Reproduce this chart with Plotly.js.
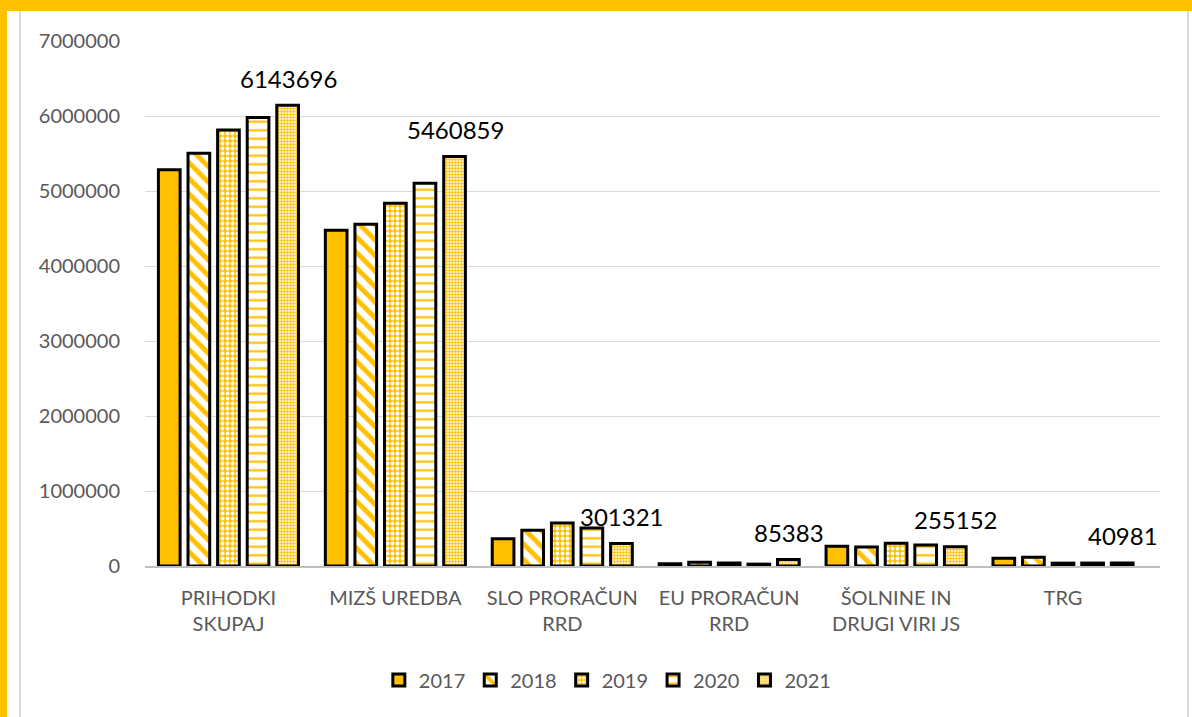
<!DOCTYPE html>
<html>
<head>
<meta charset="utf-8">
<script src="https://cdn.plot.ly/plotly-3.0.1.min.js"></script>
<style>
html,body{margin:0;padding:0;background:#fff;}
#wrap{position:relative;width:1192px;height:717px;overflow:hidden;}
#chart{position:absolute;left:0;top:0;width:1192px;height:717px;}
.ov{position:absolute;pointer-events:none;z-index:10;}
</style>
</head>
<body>
<div id="wrap">
<div id="chart"></div>
<div class="ov" style="left:0;top:0;width:1192px;height:11px;background:#FFC000;"></div>
<div class="ov" style="left:0;top:0;width:7px;height:717px;background:#FFC000;"></div>
<div class="ov" style="left:19px;top:11px;width:2px;height:706px;background:#d9d9d9;"></div>
<div class="ov" style="left:1187px;top:11px;width:2px;height:706px;background:#d9d9d9;"></div>
</div>
<script>
const categories = ["PRIHODKI<br>SKUPAJ", "MIZŠ UREDBA", "SLO PRORAČUN<br>RRD", "EU PRORAČUN<br>RRD", "ŠOLNINE IN<br>DRUGI VIRI JS", "TRG"];
const years = ["2017", "2018", "2019", "2020", "2021"];
const v2017 = [5285000, 4477000, 365000, 30000, 263000, 104000];
const v2018 = [5504000, 4557000, 477000, 50000, 255000, 117000];
const v2019 = [5815000, 4837000, 575000, 40000, 304000, 38000];
const v2020 = [5979000, 5104000, 508000, 25000, 281000, 39000];
const v2021 = [6143696, 5460859, 301321, 85383, 255152, 40981];
const yTicks = [0, 1000000, 2000000, 3000000, 4000000, 5000000, 6000000, 7000000];

const GOLD = "#FFC000";
const lineStyle = {color: "#000000", width: 3};
const patterns = [
  {shape: ""},
  {shape: "\\", fgcolor: GOLD, bgcolor: "#ffffff", size: 11, solidity: 0.45, fillmode: "replace"},
  {shape: ".", fgcolor: "#ffffff", bgcolor: GOLD, size: 5, solidity: 0.45, fillmode: "replace"},
  {shape: "-", fgcolor: GOLD, bgcolor: "#ffffff", size: 8.5, solidity: 0.25, fillmode: "replace"},
  {shape: ".", fgcolor: GOLD, bgcolor: "#ffffff", size: 3, solidity: 0.55, fillmode: "replace"}
];
const series = [v2017, v2018, v2019, v2020, v2021];

const traces = series.map((vals, i) => ({
  type: "bar",
  name: years[i],
  x: categories,
  y: vals,
  marker: {
    color: i === 0 ? GOLD : "#ffffff",
    line: lineStyle,
    pattern: patterns[i]
  },
  hoverinfo: "x+y+name"
}));

const annotations = v2021.map((v, i) => ({
  x: categories[i],
  y: v,
  xref: "x",
  yref: "y",
  text: String(v),
  showarrow: false,
  xshift: 60,
  yshift: 27,
  yanchor: "middle",
  xanchor: "center",
  font: {family: "Lato, 'Open Sans', sans-serif", size: 24, color: "#000000"}
}));

const layout = {
  width: 1192,
  height: 717,
  margin: {l: 145, r: 32, t: 41, b: 151},
  paper_bgcolor: "#ffffff",
  plot_bgcolor: "#ffffff",
  font: {family: "Lato, 'Open Sans', sans-serif", size: 20, color: "#595959"},
  barmode: "group",
  bargap: 0.1135,
  bargroupgap: 0.267,
  showlegend: true,
  legend: {
    orientation: "h",
    x: 0.456,
    xanchor: "center",
    y: -0.217,
    yanchor: "middle",
    font: {size: 20, color: "#595959"},
    traceorder: "normal"
  },
  xaxis: {
    type: "category",
    showgrid: false,
    showline: true,
    linecolor: "#bfbfbf",
    linewidth: 1.5,
    ticks: "",
    ticklabelstandoff: 13,
    tickfont: {size: 20, color: "#595959"},
    fixedrange: true
  },
  yaxis: {
    range: [0, 7000000],
    tickvals: yTicks,
    tickformat: "d",
    showgrid: true,
    gridcolor: "#d9d9d9",
    gridwidth: 1,
    zeroline: false,
    showline: false,
    ticks: "",
    ticklabelstandoff: 24,
    tickfont: {size: 20, color: "#595959"},
    fixedrange: true
  },
  annotations: annotations
};

Plotly.newPlot("chart", traces, layout, {displayModeBar: false, staticPlot: true});
</script>
</body>
</html>
